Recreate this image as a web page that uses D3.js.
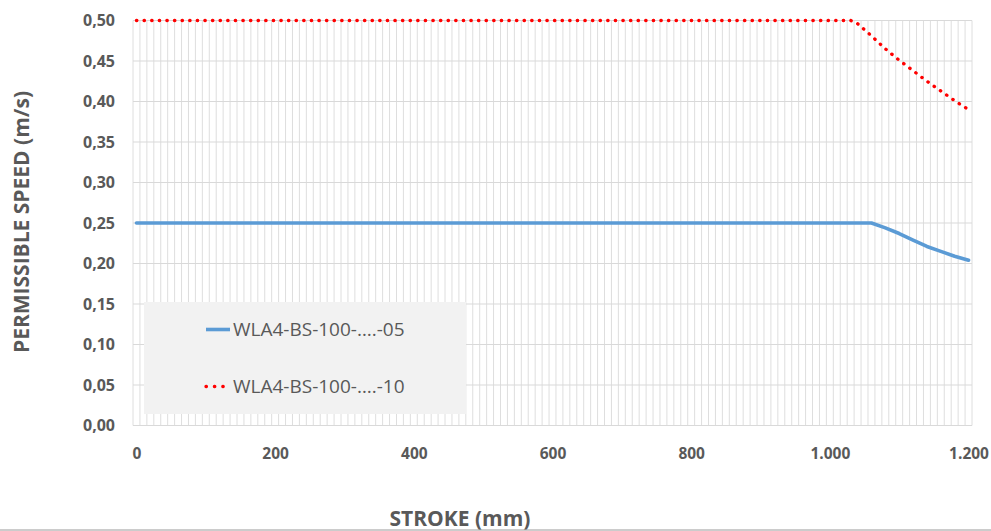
<!DOCTYPE html>
<html><head><meta charset="utf-8">
<script src="https://cdn.jsdelivr.net/npm/d3@7"></script>
<style>html,body{margin:0;padding:0;background:#fff;}svg{display:block;}</style>
</head><body>
<svg id="chart" width="991" height="531"></svg>
<script>
// ---- data ----
const seriesNames = ["WLA4-BS-100-….-05", "WLA4-BS-100-….-10"];
const strokeBlue = [0, 1060, 1080, 1100, 1120, 1140, 1160, 1180, 1200];
const speedBlue  = [0.25, 0.25, 0.244, 0.237, 0.229, 0.221, 0.215, 0.209, 0.204];
const strokeRed  = [0, 1030, 1040, 1060, 1080, 1100, 1120, 1140, 1160, 1180, 1200];
const speedRed   = [0.5, 0.5, 0.496, 0.481, 0.465, 0.451, 0.438, 0.425, 0.413, 0.401, 0.39];
const xTicks = [0, 200, 400, 600, 800, 1000, 1200];
const yTicks = [0, 0.05, 0.10, 0.15, 0.20, 0.25, 0.30, 0.35, 0.40, 0.45, 0.50];

const loc = d3.formatLocale({decimal: ",", thousands: ".", grouping: [3], currency: ["", ""]});
const fx = loc.format(",d"), fy = loc.format(".2f");

const svg = d3.select("#chart");
const L = 133, R = 972, T = 20.5, B = 425.5;
const x = d3.scaleLinear().domain([-5, 1205]).range([L, R]);
const y = d3.scaleLinear().domain([0, 0.5]).range([B, T]);

const grid = svg.append("g");
grid.selectAll("line.v").data(d3.range(-5, 1206, 10)).enter().append("line")
  .attr("x1", d => x(d)).attr("x2", d => x(d)).attr("y1", T).attr("y2", B)
  .attr("stroke", "#dedede").attr("stroke-width", 1);
grid.selectAll("line.h").data(yTicks).enter().append("line")
  .attr("x1", L).attr("x2", R).attr("y1", d => y(d)).attr("y2", d => y(d))
  .attr("stroke", "#d9d9d9").attr("stroke-width", 1);

// axes
const yAxis = svg.append("g").attr("transform", `translate(${L},0)`)
  .call(d3.axisLeft(y).tickValues(yTicks).tickFormat(fy).tickSize(0).tickPadding(18));
yAxis.select(".domain").remove();
yAxis.selectAll("text").attr("font-family", "'Open Sans', sans-serif").attr("font-weight", "bold")
  .attr("font-size", "16px").attr("fill", "#595959");

const xAxis = svg.append("g").attr("transform", `translate(0,${B})`)
  .call(d3.axisBottom(x).tickValues(xTicks).tickFormat(fx).tickSize(0).tickPadding(22));
xAxis.select(".domain").remove();
xAxis.selectAll("text").attr("font-family", "'Open Sans', sans-serif").attr("font-weight", "bold")
  .attr("font-size", "15.5px").attr("fill", "#595959");

// lines
const line = d3.line().x(d => x(d[0])).y(d => y(d[1]));
svg.append("path").datum(strokeBlue.map((s, i) => [s, speedBlue[i]]))
  .attr("d", line).attr("fill", "none").attr("stroke", "#5b9bd5")
  .attr("stroke-width", 3.6).attr("stroke-linejoin", "round").attr("stroke-linecap", "round");
svg.append("path").datum(strokeRed.map((s, i) => [s, speedRed[i]]))
  .attr("d", line).attr("fill", "none").attr("stroke", "#ff0000")
  .attr("stroke-width", 3.3).attr("stroke-dasharray", "0.4 7.2").attr("stroke-linecap", "round");

// legend
const lg = svg.append("g");
lg.append("rect").attr("x", 144).attr("y", 302).attr("width", 322).attr("height", 112).attr("fill", "#f2f2f2");
const ly = [329.5, 386.5];
lg.append("line").attr("x1", 206).attr("x2", 230).attr("y1", ly[0]).attr("y2", ly[0])
  .attr("stroke", "#5b9bd5").attr("stroke-width", 3.6);
lg.append("line").attr("x1", 206).attr("x2", 230).attr("y1", ly[1]).attr("y2", ly[1])
  .attr("stroke", "#ff0000").attr("stroke-width", 3.3).attr("stroke-dasharray", "0.4 8")
  .attr("stroke-linecap", "round");
lg.selectAll("text").data(seriesNames).enter().append("text")
  .attr("x", 233).attr("y", (d, i) => ly[i]).attr("dy", "0.36em")
  .attr("font-family", "'Open Sans', sans-serif").attr("font-size", "19px").attr("fill", "#595959")
  .text(d => d);

// axis titles
svg.append("text").attr("transform", "translate(29,222) rotate(-90)").attr("text-anchor", "middle")
  .attr("font-family", "'Open Sans', sans-serif").attr("font-weight", "bold").attr("font-size", "21px")
  .attr("fill", "#595959").text("PERMISSIBLE SPEED (m/s)");
svg.append("text").attr("x", 460).attr("y", 526).attr("text-anchor", "middle")
  .attr("font-family", "'Open Sans', sans-serif").attr("font-weight", "bold").attr("font-size", "21px")
  .attr("fill", "#595959").text("STROKE (mm)");
svg.append("line").attr("x1", 0).attr("x2", 991).attr("y1", 530).attr("y2", 530)
  .attr("stroke", "#999").attr("stroke-width", 1.2);
</script>
</body></html>
